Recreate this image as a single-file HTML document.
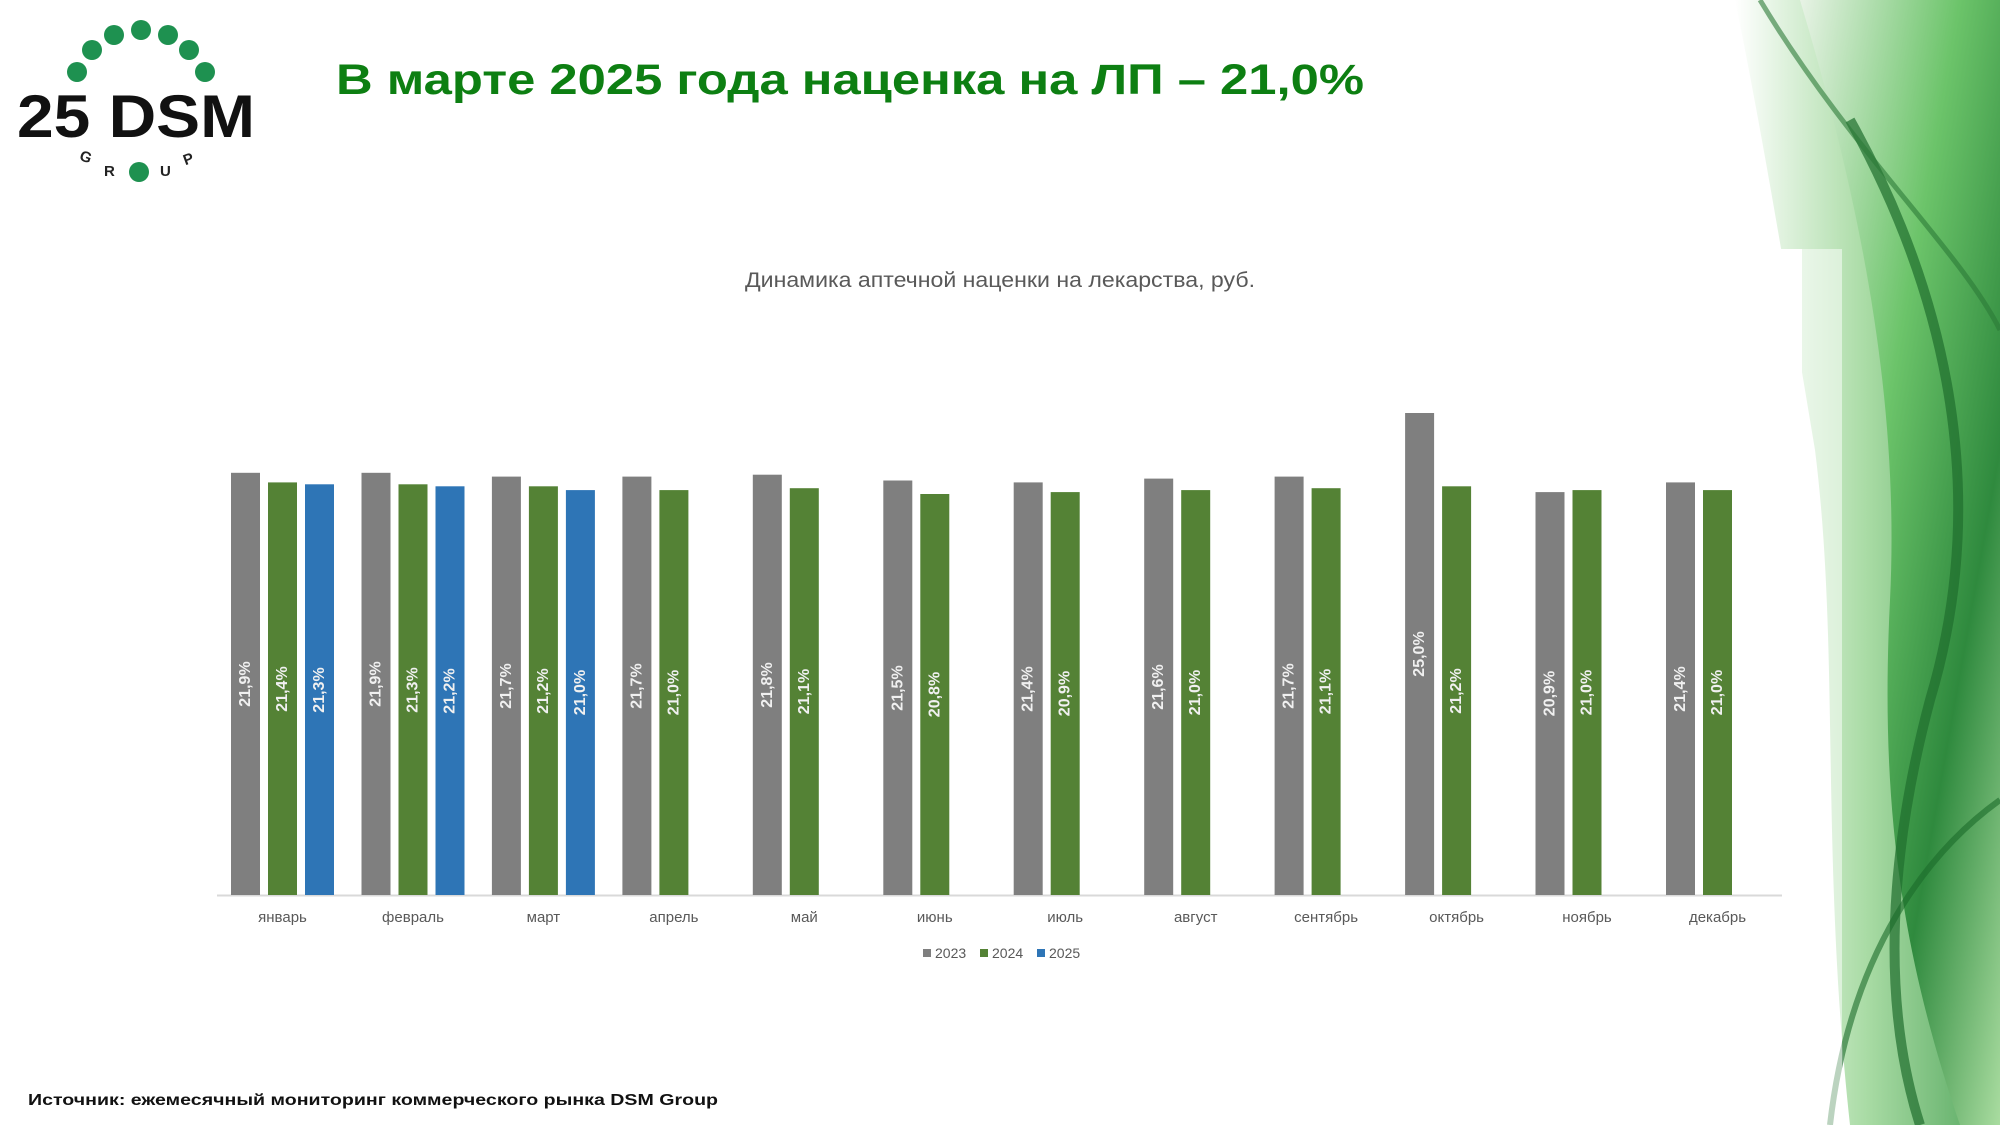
<!DOCTYPE html>
<html><head><meta charset="utf-8"><style>
html,body{margin:0;padding:0;background:#fff;}
body{width:2000px;height:1125px;position:relative;overflow:hidden;font-family:"Liberation Sans",sans-serif;}
</style></head><body>
<svg width="2000" height="1125" viewBox="0 0 2000 1125" xmlns="http://www.w3.org/2000/svg" style="position:absolute;left:0;top:0">
<defs>
<linearGradient id="g1" x1="0" y1="0" x2="1" y2="1">
<stop offset="0" stop-color="#e8f3e6"/><stop offset="0.4" stop-color="#6cc46a"/><stop offset="0.7" stop-color="#2f8a3e"/><stop offset="1" stop-color="#a9dca0"/></linearGradient>
<linearGradient id="g2" x1="0" y1="0" x2="1" y2="0">
<stop offset="0" stop-color="#ffffff"/><stop offset="0.5" stop-color="#9fd79a"/><stop offset="1" stop-color="#3c9a48"/></linearGradient>
</defs>
<path d="M1735 0 C1760 120 1790 300 1815 450 C1840 650 1820 850 1850 1125 L2000 1125 L2000 0 Z" fill="url(#g2)" opacity="0.9"/>
<path d="M1800 0 C1860 200 1900 400 1890 600 C1880 800 1900 950 1960 1125 L2000 1125 L2000 0 Z" fill="url(#g1)"/>
<path d="M1850 120 C1950 300 1990 500 1930 700 C1890 850 1880 1000 1920 1125" stroke="#1f6e2e" stroke-width="10" fill="none" opacity="0.7"/>
<path d="M1760 0 C1850 150 1960 250 2000 330" stroke="#2b7a37" stroke-width="5" fill="none" opacity="0.6"/>
<path d="M1830 1125 C1850 950 1930 850 2000 800" stroke="#1b6b2a" stroke-width="6" fill="none" opacity="0.6"/>
<rect x="0" y="249" width="1802" height="876" fill="#fff"/>
<rect x="1802" y="249" width="40" height="876" fill="#fff" opacity="0.5"/>

<!-- logo -->
<g fill="#1e9150">
<circle cx="77" cy="72" r="10"/><circle cx="92" cy="50" r="10"/><circle cx="114" cy="35" r="10"/><circle cx="141" cy="30" r="10"/><circle cx="168" cy="35" r="10"/><circle cx="189" cy="50" r="10"/><circle cx="205" cy="72" r="10"/><circle cx="139" cy="172" r="10"/>
</g>
<text x="17" y="137" font-size="60" font-weight="bold" fill="#111" textLength="238" lengthAdjust="spacingAndGlyphs">25 DSM</text>
<text x="80" y="162" font-size="15" font-weight="bold" fill="#222" transform="rotate(20 86 157)">G</text>
<text x="104" y="176" font-size="15" font-weight="bold" fill="#222">R</text>
<text x="160" y="176" font-size="15" font-weight="bold" fill="#222">U</text>
<text x="183" y="164" font-size="15" font-weight="bold" fill="#222" transform="rotate(-20 188 158)">P</text>

<text x="336" y="94" font-size="43" font-weight="bold" fill="#0d7f12" textLength="1028" lengthAdjust="spacingAndGlyphs">В марте 2025 года наценка на ЛП – 21,0%</text>
<text x="745" y="287" font-size="21" fill="#595959" textLength="510" lengthAdjust="spacingAndGlyphs">Динамика аптечной наценки на лекарства, руб.</text>

<line x1="217" y1="895.5" x2="1782" y2="895.5" stroke="#d9d9d9" stroke-width="2"/>

<g fill="#7f7f7f">
<rect x="231" y="472.8" width="29" height="422.2"/>
<rect x="361.5" y="472.8" width="29" height="422.2"/>
<rect x="491.9" y="476.6" width="29" height="418.4"/>
<rect x="622.4" y="476.6" width="29" height="418.4"/>
<rect x="752.8" y="474.7" width="29" height="420.3"/>
<rect x="883.3" y="480.5" width="29" height="414.5"/>
<rect x="1013.7" y="482.4" width="29" height="412.6"/>
<rect x="1144.2" y="478.6" width="29" height="416.4"/>
<rect x="1274.6" y="476.6" width="29" height="418.4"/>
<rect x="1405.1" y="413" width="29" height="482"/>
<rect x="1535.5" y="492.1" width="29" height="402.9"/>
<rect x="1666" y="482.4" width="29" height="412.6"/>
</g>
<g fill="#548235">
<rect x="268" y="482.4" width="29" height="412.6"/>
<rect x="398.5" y="484.3" width="29" height="410.7"/>
<rect x="528.9" y="486.3" width="29" height="408.7"/>
<rect x="659.4" y="490.1" width="29" height="404.9"/>
<rect x="789.8" y="488.2" width="29" height="406.8"/>
<rect x="920.3" y="494" width="29" height="401"/>
<rect x="1050.7" y="492.1" width="29" height="402.9"/>
<rect x="1181.2" y="490.1" width="29" height="404.9"/>
<rect x="1311.6" y="488.2" width="29" height="406.8"/>
<rect x="1442.1" y="486.3" width="29" height="408.7"/>
<rect x="1572.5" y="490.1" width="29" height="404.9"/>
<rect x="1703" y="490.1" width="29" height="404.9"/>
</g>
<g fill="#2e75b6">
<rect x="305" y="484.3" width="29" height="410.7"/>
<rect x="435.5" y="486.3" width="29" height="408.7"/>
<rect x="565.9" y="490.1" width="29" height="404.9"/>
</g>

<g font-size="16" font-weight="bold" fill="#f0f0f0" text-anchor="middle" dominant-baseline="central">
<text transform="translate(245.5,684) rotate(-90)">21,9%</text>
<text transform="translate(376,684) rotate(-90)">21,9%</text>
<text transform="translate(506.4,686) rotate(-90)">21,7%</text>
<text transform="translate(636.9,686) rotate(-90)">21,7%</text>
<text transform="translate(767.3,685) rotate(-90)">21,8%</text>
<text transform="translate(897.8,688) rotate(-90)">21,5%</text>
<text transform="translate(1028.2,689) rotate(-90)">21,4%</text>
<text transform="translate(1158.7,687) rotate(-90)">21,6%</text>
<text transform="translate(1289.1,686) rotate(-90)">21,7%</text>
<text transform="translate(1419.6,654) rotate(-90)">25,0%</text>
<text transform="translate(1550,693.5) rotate(-90)">20,9%</text>
<text transform="translate(1680.5,689) rotate(-90)">21,4%</text>
<text transform="translate(282.5,689) rotate(-90)">21,4%</text>
<text transform="translate(413,690) rotate(-90)">21,3%</text>
<text transform="translate(543.4,691) rotate(-90)">21,2%</text>
<text transform="translate(673.9,692.5) rotate(-90)">21,0%</text>
<text transform="translate(804.3,691.5) rotate(-90)">21,1%</text>
<text transform="translate(934.8,694.5) rotate(-90)">20,8%</text>
<text transform="translate(1065.2,693.5) rotate(-90)">20,9%</text>
<text transform="translate(1195.7,692.5) rotate(-90)">21,0%</text>
<text transform="translate(1326.1,691.5) rotate(-90)">21,1%</text>
<text transform="translate(1456.6,691) rotate(-90)">21,2%</text>
<text transform="translate(1587,692.5) rotate(-90)">21,0%</text>
<text transform="translate(1717.5,692.5) rotate(-90)">21,0%</text>
<text transform="translate(319.5,690) rotate(-90)">21,3%</text>
<text transform="translate(450,691) rotate(-90)">21,2%</text>
<text transform="translate(580.4,692.5) rotate(-90)">21,0%</text>
</g>

<g font-size="15" fill="#595959" text-anchor="middle">
<text x="282.5" y="922">январь</text>
<text x="413" y="922">февраль</text>
<text x="543.4" y="922">март</text>
<text x="673.9" y="922">апрель</text>
<text x="804.3" y="922">май</text>
<text x="934.8" y="922">июнь</text>
<text x="1065.2" y="922">июль</text>
<text x="1195.7" y="922">август</text>
<text x="1326.1" y="922">сентябрь</text>
<text x="1456.6" y="922">октябрь</text>
<text x="1587" y="922">ноябрь</text>
<text x="1717.5" y="922">декабрь</text>
</g>

<g font-size="14" fill="#595959">
<rect x="923" y="949" width="8" height="8" fill="#7f7f7f"/><text x="935" y="958">2023</text>
<rect x="980" y="949" width="8" height="8" fill="#548235"/><text x="992" y="958">2024</text>
<rect x="1037" y="949" width="8" height="8" fill="#2e75b6"/><text x="1049" y="958">2025</text>
</g>

<text x="28" y="1105" font-size="16" font-weight="bold" fill="#111" textLength="690" lengthAdjust="spacingAndGlyphs">Источник: ежемесячный мониторинг коммерческого рынка DSM Group</text>
</svg>
</body></html>
